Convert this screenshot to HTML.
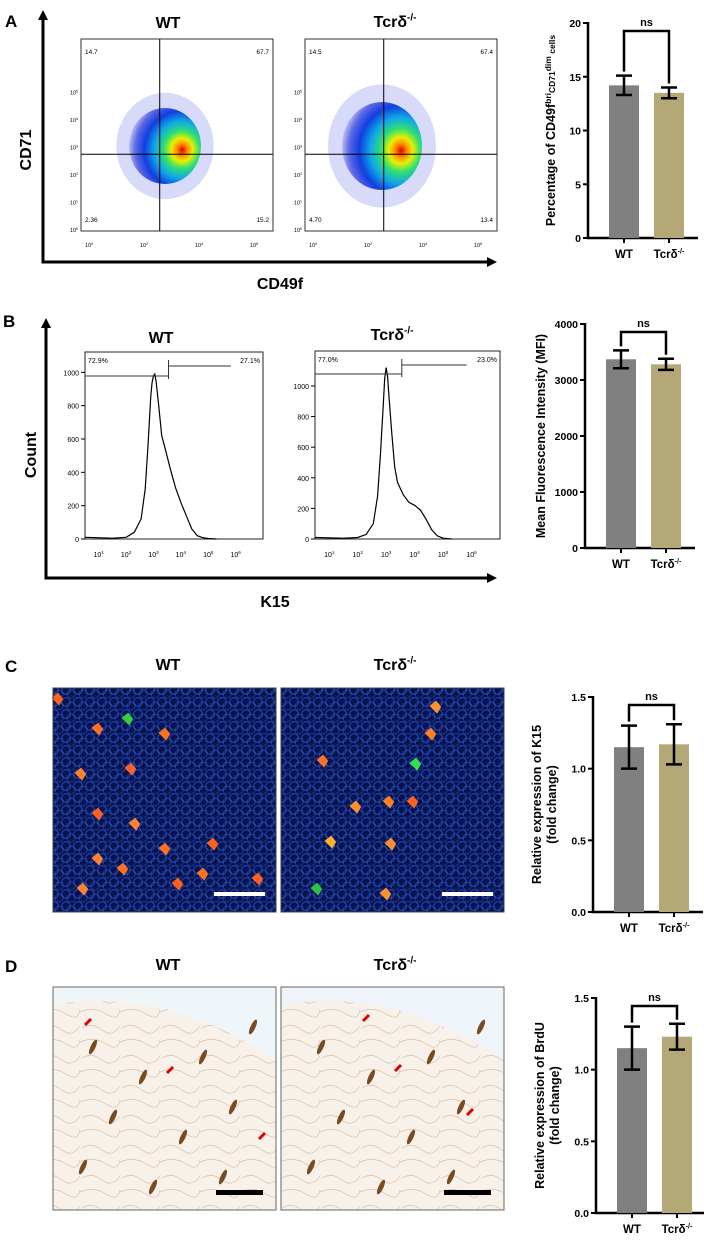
<!DOCTYPE html>
<html><head><meta charset="utf-8"><style>
html,body{margin:0;padding:0;background:#fff;}
svg{display:block;font-family:"Liberation Sans",Arial,sans-serif;}
</style></head><body>
<svg id="fig" width="704" height="1240" viewBox="0 0 704 1240" xmlns="http://www.w3.org/2000/svg">
<defs>
<radialGradient id="dens" cx="0.72" cy="0.55" r="0.75" fx="0.74" fy="0.55">
<stop offset="0" stop-color="#e00000"/><stop offset="0.1" stop-color="#ff8a00"/><stop offset="0.2" stop-color="#e8f000"/><stop offset="0.33" stop-color="#30e070"/><stop offset="0.5" stop-color="#10a8e8"/><stop offset="0.68" stop-color="#1040e0"/><stop offset="0.85" stop-color="#1020d8" stop-opacity="0.6"/><stop offset="1" stop-color="#1010d0" stop-opacity="0"/>
</radialGradient>
<pattern id="cells" width="12" height="12" patternUnits="userSpaceOnUse">
<rect width="12" height="12" fill="#081250"/>
<circle cx="6" cy="6" r="4.3" fill="none" stroke="#2440c8" stroke-width="1.1"/>
</pattern>
<pattern id="cells2" width="12" height="12" patternUnits="userSpaceOnUse" patternTransform="translate(5,4)">
<circle cx="6" cy="6" r="4" fill="none" stroke="#2d8fb0" stroke-width="1" opacity="0.4"/>
</pattern>
<pattern id="tissue" width="40" height="30" patternUnits="userSpaceOnUse">
<rect width="40" height="30" fill="#f7f1ea"/>
<path d="M2 8 Q12 2 22 10 T40 6 M0 22 Q14 16 26 24 T40 20" fill="none" stroke="#d4b89c" stroke-width="0.6"/>
</pattern>
</defs>
<g id="root"></g>
</svg>
<script>
// ---- Data ----
const barCats = ['WT', 'Tcrδ-/-'];
const aValues = [14.2, 13.5];
const aErrors = [0.9, 0.5];
const aTicks = [0, 5, 10, 15, 20];
const bValues = [3370, 3280];
const bErrors = [160, 100];
const bTicks = [0, 1000, 2000, 3000, 4000];
const cValues = [1.15, 1.17];
const cErrors = [0.15, 0.14];
const cTicks = [0.0, 0.5, 1.0, 1.5];
const dValues = [1.15, 1.23];
const dErrors = [0.15, 0.09];
const dTicks = [0.0, 0.5, 1.0, 1.5];
// histogram: log10 position vs count
const histX = [0.5,1.5,2,2.3,2.55,2.7,2.8,2.9,2.95,3.0,3.05,3.1,3.2,3.3,3.4,3.6,3.8,4.0,4.2,4.4,4.6,4.8,5.0,5.3];
const histWT = [10,5,10,40,120,300,560,850,940,980,990,940,790,620,560,430,310,220,140,60,20,8,3,0];
const histKO = [10,5,10,30,100,280,560,880,1050,1120,1060,930,690,470,370,290,240,220,190,130,60,20,5,0];
const quadA1 = ['14.7','67.7','2.36','15.2'];
const quadA2 = ['14.5','67.4','4.70','13.4'];

const NS='http://www.w3.org/2000/svg';
const root=document.getElementById('root');
function el(tag,attrs,parent,text){const e=document.createElementNS(NS,tag);for(const k in attrs)e.setAttribute(k,attrs[k]);if(text!==undefined)e.textContent=text;(parent||root).appendChild(e);return e;}

function txt(x,y,s,size,name,opts){
 opts=opts||{};
 const t=el('text',{x:x,y:y,'font-size':size,'font-weight':opts.w||'bold','text-anchor':opts.a||'middle',fill:opts.fill||'#000'},opts.p);
 if(opts.rot)t.setAttribute('transform','rotate(-90 '+x+' '+y+')');
 
 
 if(opts.sup){t.appendChild(document.createTextNode(s));const ts=document.createElementNS(NS,'tspan');ts.setAttribute('dy',-size*0.4);ts.setAttribute('font-size',size*0.65);ts.textContent=opts.sup;t.appendChild(ts);}
 else t.textContent=s;
 return t;
}
function koTitle(x,y,size,name,p){
 const t=el('text',{x:x,y:y,'font-size':size,'font-weight':'bold','text-anchor':'middle'},p);
 
 
 t.appendChild(document.createTextNode('Tcrδ'));
 const ts=document.createElementNS(NS,'tspan');ts.setAttribute('dy',-size*0.4);ts.setAttribute('font-size',size*0.62);ts.textContent='-/-';t.appendChild(ts);
}
function arrowAxes(x0,yTop,yBot,xRight,name){
 const g=el('g',{});
 
 
 el('path',{d:'M'+x0+' '+(yTop+8)+' V'+yBot+' H'+(xRight-8),stroke:'#000','stroke-width':3,fill:'none'},g);
 el('path',{d:'M'+(x0-5)+' '+(yTop+10)+' L'+x0+' '+yTop+' L'+(x0+5)+' '+(yTop+10)+'Z',fill:'#000'},g);
 el('path',{d:'M'+(xRight-10)+' '+(yBot-5)+' L'+xRight+' '+yBot+' L'+(xRight-10)+' '+(yBot+5)+'Z',fill:'#000'},g);
}

// ---- bar chart ----
function barChart(o){
 const g=el('g',{});
 
 
 const ymax=o.ticks[o.ticks.length-1];
 const yS=v=>o.y0-(v/ymax)*(o.y0-o.yT);
 const bw=30, centers=[o.ax+36,o.ax+81];
 el('path',{d:'M'+o.ax+' '+(o.yT-1)+' V'+o.y0+' H'+(o.ax+110),stroke:'#000','stroke-width':2.5,fill:'none'},g);
 o.ticks.forEach(t=>{
  const y=yS(t);
  el('line',{x1:o.ax-5,x2:o.ax,y1:y,y2:y,stroke:'#000','stroke-width':2},g);
  txt(o.ax-7,y+4,String(o.fmt?o.fmt(t):t),10.5,'y-tick-label',{a:'end',p:g});
 });
 const colors=['#808080','#b3a876'];
 o.values.forEach((v,i)=>{
  const r=el('rect',{x:centers[i]-bw/2,y:yS(v),width:bw,height:o.y0-yS(v),fill:colors[i]},g);
  
  
  const e=o.errs[i],cx=centers[i];
  const eb=el('path',{d:'M'+cx+' '+yS(v+e)+' V'+yS(v-e)+' M'+(cx-8)+' '+yS(v+e)+' H'+(cx+8)+' M'+(cx-8)+' '+yS(v-e)+' H'+(cx+8),stroke:'#000','stroke-width':2.5,fill:'none'},g);
  
  
  el('line',{x1:cx,x2:cx,y1:o.y0,y2:o.y0+5,stroke:'#000','stroke-width':2},g);
 });
 const by=o.yT+8;
 el('path',{d:'M'+centers[0]+' '+(yS(o.values[0]+o.errs[0])-4)+' V'+by+' H'+centers[1]+' V'+(yS(o.values[1]+o.errs[1])-4),stroke:'#000','stroke-width':2.5,fill:'none'},g);
 txt((centers[0]+centers[1])/2,by-5,'ns',11,'significance-label',{p:g});
 txt(centers[0],o.y0+20,'WT',11.5,'x-label-wt',{p:g});
 koTitle(centers[1],o.y0+20,11.5,'x-label-tcrd-ko',g);
 const lines=o.title;
 lines.forEach((l,k)=>{
  const tx=o.ax-o.toff+(k-(lines.length-1))*15;
  const t=el('text',{x:tx,y:(o.yT+o.y0)/2,'font-size':12.5,'font-weight':'bold','text-anchor':'middle',transform:'rotate(-90 '+tx+' '+((o.yT+o.y0)/2)+')'},g);
  
  
  if(typeof l==='string')t.textContent=l;else l.forEach(seg=>{const s=document.createElementNS(NS,'tspan');s.textContent=seg[0];if(seg[1]){s.setAttribute('font-size',8.5);s.setAttribute('dy',seg[1]);}t.appendChild(s);});
 });
}

// ---- Panel labels ----
txt(5,27,'A',17,'panel-label-a',{a:'start'});
txt(3,327,'B',17,'panel-label-b',{a:'start'});
txt(5,672,'C',17,'panel-label-c',{a:'start'});
txt(5,972,'D',17,'panel-label-d',{a:'start'});

// ---- Panel A ----
arrowAxes(43,10,262,497,'panel-a-axes');
txt(168,28,'WT',16,'title-wt-a');
koTitle(395,27,16,'title-tcrd-a');
txt(31,150,'CD71',16,'y-axis-title-cd71',{rot:true});
txt(280,289,'CD49f',16,'x-axis-title-cd49f');
function dotPlot(x,y,w,h,quad,name,blob){
 const g=el('g',{});
 
 
 el('rect',{x:x,y:y,width:w,height:h,fill:'#fff',stroke:'#333','stroke-width':1},g);
 el('ellipse',{cx:blob[0],cy:blob[1],rx:blob[2]*1.35,ry:blob[3]*1.4,fill:'#2030e0',opacity:0.18},g);
 el('ellipse',{cx:blob[0],cy:blob[1],rx:blob[2],ry:blob[3],fill:'url(#dens)'},g);
 const qx=x+w*0.41,qy=y+h*0.6;
 el('line',{x1:qx,x2:qx,y1:y,y2:y+h,stroke:'#000','stroke-width':1},g);
 el('line',{x1:x,x2:x+w,y1:qy,y2:qy,stroke:'#000','stroke-width':1},g);
 txt(x+4,y+15,quad[0],6.5,'quadrant-ul',{a:'start',w:'normal',p:g});
 txt(x+w-4,y+15,quad[1],6.5,'quadrant-ur',{a:'end',w:'normal',p:g});
 txt(x+4,y+h-9,quad[2],6.5,'quadrant-ll',{a:'start',w:'normal',p:g});
 txt(x+w-4,y+h-9,quad[3],6.5,'quadrant-lr',{a:'end',w:'normal',p:g});
 [0,1,2,3,4,5].forEach(i=>{const yy=y+h-2-i*27.5;txt(x-3,yy+3,'10',5.5,'y-tick',{a:'end',w:'normal',p:g,sup:String(i)});});
 [0,2,4,6].forEach((d,i)=>{txt(x+8+i*55,y+h+16,'10',5.5,'x-tick',{w:'normal',p:g,sup:String(d)});});
}
dotPlot(81,39,192,192,quadA1,'dot-plot-wt',[165,146,36,38]);
dotPlot(305,39,192,192,quadA2,'dot-plot-tcrd',[382,146,40,44]);

barChart({name:'bar-chart-a',ax:588,yT:23,y0:238,toff:33,ticks:aTicks,values:aValues,errs:aErrors,
 title:[[['Percentage of CD49f'],['bri',-4],['CD71',4],['dim',-4],[' cells',4]]]});

// ---- Panel B ----
arrowAxes(46,318,578,497,'panel-b-axes');
txt(161,343,'WT',16,'title-wt-b');
koTitle(392,340,16,'title-tcrd-b');
txt(36,455,'Count',16,'y-axis-title-count',{rot:true});
txt(275,607,'K15',16,'x-axis-title-k15');
function hist(x,y,w,h,ymax,counts,ticks,lbl,gate,name){
 const g=el('g',{});
 
 
 el('rect',{x:x,y:y,width:w,height:h,fill:'#fff',stroke:'#222','stroke-width':1},g);
 const xS=v=>x+(v-0.5)*(w/6.5), yS=c=>y+h-(c/ymax)*(h-12);
 let d='';histX.forEach((v,i)=>{d+=(i?'L':'M')+xS(v).toFixed(1)+' '+yS(counts[i]).toFixed(1);});
 const p=el('path',{d:d,fill:'none',stroke:'#000','stroke-width':1.2},g);
 
 
 ticks.forEach(t=>{el('line',{x1:x-4,x2:x,y1:yS(t),y2:yS(t),stroke:'#000'},g);txt(x-6,yS(t)+3,String(t),7,'y-tick',{a:'end',w:'normal',p:g});});
 [1,2,3,4,5,6].forEach(e=>txt(xS(e),y+h+18,'10',7,'x-tick',{w:'normal',p:g,sup:String(e)}));
 const gx=xS(3.55);
 el('path',{d:'M'+x+' '+gate[0]+' H'+gx+' M'+gx+' '+(gate[1]-6)+' V'+(gate[0]+3)+' M'+gx+' '+gate[1]+' H'+(x+w*0.82),stroke:'#333','stroke-width':1,fill:'none'},g);
 txt(x+3,y+11,lbl[0],7,'gate-left-pct',{a:'start',w:'normal',p:g});
 txt(x+w-3,y+11,lbl[1],7,'gate-right-pct',{a:'end',w:'normal',p:g});
}
hist(85,352,178,187,1050,histWT,[0,200,400,600,800,1000],['72.9%','27.1%'],[376,366],'histogram-wt');
hist(315,351,185,188,1150,histKO,[0,200,400,600,800,1000],['77.0%','23.0%'],[374,365],'histogram-tcrd');
barChart({name:'bar-chart-b',ax:585,yT:324,y0:548,toff:40,ticks:bTicks,values:bValues,errs:bErrors,
 title:['Mean Fluorescence Intensity (MFI)']});

// ---- Panel C ----
txt(168,670,'WT',16,'title-wt-c');
koTitle(395,670,16,'title-tcrd-c');
function ifImg(x,name,spots){
 const g=el('g',{});
 
 
 el('rect',{x:x,y:688,width:223,height:224,fill:'url(#cells)'},g);
 el('rect',{x:x,y:688,width:223,height:224,fill:'url(#cells2)'},g);
 spots.forEach(s=>el('path',{d:'M'+(x+s[0]-5)+' '+(688+s[1])+' l5 -4 l4 5 l-3 5 z',fill:s[2],stroke:s[2],'stroke-width':2},g));
 el('rect',{x:x+161,y:892,width:51,height:4,fill:'#fff'},g);
 el('rect',{x:x,y:688,width:223,height:224,fill:'none',stroke:'#444'},g);
}
ifImg(53,'micrograph-if-wt',[[5,10,'#ff6020'],[45,40,'#ff7020'],[28,85,'#ff8030'],[78,80,'#ff6030'],[112,45,'#ff7020'],[45,125,'#ff6020'],[82,135,'#ff8030'],[112,160,'#ff7020'],[160,155,'#ff6020'],[45,170,'#ff8030'],[70,180,'#ff7020'],[125,195,'#ff6020'],[30,200,'#ff8030'],[150,185,'#ff7020'],[75,30,'#30d040'],[205,190,'#ff6020']]);
ifImg(281,'micrograph-if-tcrd',[[155,18,'#ff9030'],[150,45,'#ff8020'],[42,72,'#ff7020'],[75,118,'#ff9030'],[108,113,'#ff8020'],[50,153,'#ffb030'],[132,113,'#ff6020'],[110,155,'#ff9030'],[105,205,'#ff9030'],[36,200,'#30c040'],[135,75,'#30e050']]);
barChart({name:'bar-chart-c',ax:593,yT:697,y0:912,toff:37,ticks:cTicks,values:cValues,errs:cErrors,fmt:t=>t.toFixed(1),
 title:['Relative expression of K15','(fold change)']});

// ---- Panel D ----
txt(168,970,'WT',16,'title-wt-d');
koTitle(395,970,16,'title-tcrd-d');
function ihcImg(x,name,arrows,tint){
 const g=el('g',{});
 
 
 el('rect',{x:x,y:987,width:223,height:223,fill:'url(#tissue)'},g);
 el('path',{d:'M'+x+' 1005 Q'+(x+110)+' 985 '+(x+223)+' 1060 V987 H'+x+'Z',fill:tint},g);
 [[40,60],[90,90],[150,70],[60,130],[130,150],[180,120],[30,180],[100,200],[170,190],[200,40]].forEach(s=>el('ellipse',{cx:x+s[0],cy:987+s[1],rx:2.5,ry:8,fill:'#7a4a20',transform:'rotate(25 '+(x+s[0])+' '+(987+s[1])+')'},g));
 arrows.forEach(a=>el('path',{d:'M'+(x+a[0])+' '+(987+a[1])+' l-6 6',stroke:'#e00000','stroke-width':3},g));
 el('rect',{x:x+163,y:1190,width:47,height:5,fill:'#000'},g);
 el('rect',{x:x,y:987,width:223,height:223,fill:'none',stroke:'#666'},g);
}
ihcImg(53,'micrograph-ihc-wt',[[38,32],[120,80],[212,146]],'#eef6fa');
ihcImg(281,'micrograph-ihc-tcrd',[[88,28],[120,78],[192,122]],'#eef4fa');
barChart({name:'bar-chart-d',ax:596,yT:998,y0:1213,toff:37,ticks:dTicks,values:dValues,errs:dErrors,fmt:t=>t.toFixed(1),
 title:['Relative expression of BrdU','(fold change)']});
</script>
</body></html>
